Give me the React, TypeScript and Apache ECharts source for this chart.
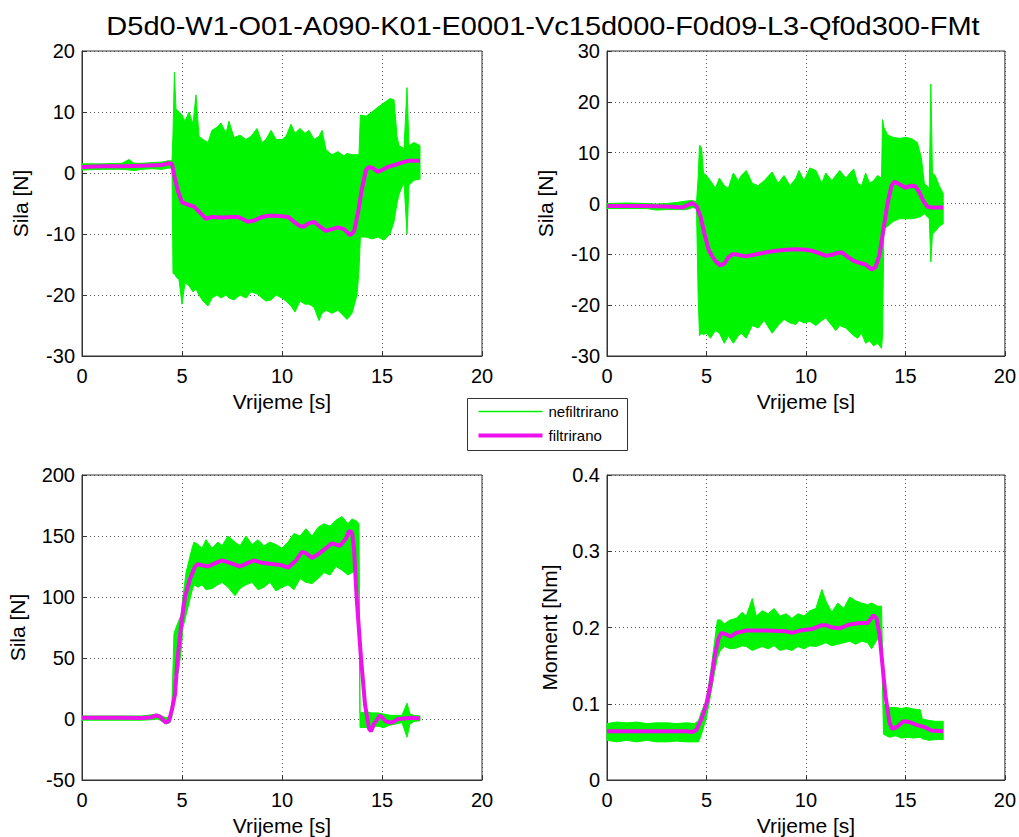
import React, { useEffect, useRef } from 'react';
import * as echarts from 'echarts';

const TITLE = 'D5d0-W1-O01-A090-K01-E0001-Vc15d000-F0d09-L3-Qf0d300-FMt';
const X_NAME = 'Vrijeme [s]';
const Y_NAMES = ['Sila [N]', 'Sila [N]', 'Sila [N]', 'Moment [Nm]'];
const LEGEND_NAMES = ['nefiltrirano', 'filtrirano'];

// y-axis ranges [min, max, interval]
const Y_RANGES: [number, number, number][] = [
  [-30, 20, 10],
  [-30, 30, 10],
  [-50, 200, 50],
  [0, 0.4, 0.1],
];

// Unfiltered signal envelope: [time, lower, upper]
const rawEnvelope1: [number, number, number][] = [
  [0, 0.5, 1.5], [1, 0.6, 1.5], [2, 0.6, 1.6], [2.35, 0.5, 2.2], [2.6, 0.4, 1.6], [3, 0.6, 1.6],
  [3.5, 0.7, 1.7], [4.0, 0.6, 1.8], [4.3, 0.8, 2.0], [4.5, 0.8, 2.0], [4.55, -16.5, 6.5],
  [4.62, -16.5, 16.5], [4.7, -17, 10.5], [4.85, -17.5, 10], [5.0, -21.5, 9.5], [5.15, -18, 8.5],
  [5.35, -18.5, 10], [5.55, -19.5, 8], [5.7, -19, 12.8], [5.85, -20, 6], [6.05, -21, 5.5],
  [6.3, -21.8, 5], [6.5, -20.5, 7], [6.75, -20, 7.5], [6.95, -20.5, 8.2], [7.2, -20, 6.5],
  [7.35, -20.5, 8.5], [7.6, -20.8, 5.8], [7.9, -20, 6.2], [8.2, -20.5, 5.5], [8.45, -19.5, 6],
  [8.75, -19.8, 7.3], [9.0, -20.5, 5], [9.2, -21, 5.5], [9.45, -20.8, 7], [9.7, -20, 5.5],
  [10.0, -20.5, 5.5], [10.2, -21, 6], [10.45, -21.8, 8], [10.65, -22.8, 6.5], [10.9, -21, 7.3],
  [11.15, -21.5, 6.5], [11.35, -21.5, 7], [11.6, -22, 5.5], [11.85, -24.2, 6], [12.0, -23, 7],
  [12.2, -22.5, 3.8], [12.5, -23, 3], [12.8, -22.5, 3.5], [13.1, -23.5, 2.8], [13.25, -24, 3.2],
  [13.5, -23, 3], [13.75, -20, 3], [13.85, -16, 3], [13.92, -10.5, 9.5], [14.2, -10.5, 9.3],
  [14.5, -10.8, 10], [14.8, -10.5, 10.8], [15.1, -11, 11.5], [15.4, -10, 12.2], [15.6, -8, 12],
  [15.75, -5, 6], [15.85, -3.5, 4.5], [16.1, -1.5, 4], [16.25, -10, 14], [16.35, -2, 4.5],
  [16.6, -1.2, 5], [16.9, -1, 4.5],
];
const rawEnvelope2: [number, number, number][] = [
  [0, -1, 0], [1, -1, 0.1], [2, -1, 0], [2.5, -1.3, -0.1], [3, -1.2, 0], [3.5, -1.2, 0.2],
  [4, -1.2, 0.5], [4.3, -0.8, 0.6], [4.5, -1, 0.3], [4.58, -18, 5], [4.65, -26, 11.5],
  [4.75, -25.5, 11], [4.85, -25.8, 6], [5.0, -25.5, 5.5], [5.2, -26.5, 4.5], [5.45, -25, 3],
  [5.65, -25.5, 5], [5.9, -27.5, 3.5], [6.1, -26, 3], [6.35, -27.5, 6], [6.6, -26, 4.5],
  [6.75, -25.5, 5.5], [7.0, -26.5, 6.5], [7.3, -24, 4], [7.6, -24.5, 3.5], [7.9, -23, 4.5],
  [8.3, -25.5, 6.2], [8.6, -24, 4], [8.9, -22.8, 5.5], [9.2, -23.5, 3.5], [9.5, -23.8, 5],
  [9.65, -23, 6.5], [9.9, -23.5, 4.5], [10.2, -23.2, 7], [10.5, -24, 6.5], [10.8, -23, 4],
  [11.0, -22.5, 6], [11.3, -24, 4.5], [11.5, -25, 5.5], [11.7, -24, 6.5], [12.0, -24.5, 5],
  [12.4, -26, 6.8], [12.6, -26.5, 4], [12.8, -25.5, 3.5], [13.0, -27.5, 6], [13.2, -27, 4],
  [13.4, -28, 4.5], [13.6, -27.5, 5.5], [13.8, -28.5, 5], [13.85, -26, 16.5], [13.92, -5, 15],
  [14.1, -4.5, 13.5], [14.4, -3.5, 13], [14.7, -3, 12.8], [15.0, -3, 13], [15.3, -3, 12.8],
  [15.6, -2.8, 12], [15.8, -2.5, 9], [15.95, -2, 4], [16.2, -3, 3], [16.28, -11.5, 23.5],
  [16.36, -6, 6], [16.5, -5.5, 5.5], [16.7, -4.5, 3.5], [16.9, -4, 2],
];
const rawEnvelope3: [number, number, number][] = [
  [0, -1, 2.5], [1, -1, 2.5], [2, -1, 2.5], [3, -1, 2.5], [3.5, -0.5, 3.5], [3.8, 0, 4],
  [4.2, -4, 1], [4.4, -3, 2], [4.5, 2, 15], [4.6, 35, 70], [4.7, 40, 75], [4.82, 38, 80],
  [4.95, 55, 85], [5.05, 75, 100], [5.2, 85, 120], [5.35, 95, 130], [5.5, 105, 140],
  [5.6, 110, 145], [5.8, 108, 143], [6.0, 110, 140], [6.2, 106, 147], [6.5, 107, 140],
  [6.8, 110, 145], [7.0, 112, 142], [7.3, 108, 150], [7.65, 101, 145], [7.9, 107, 142],
  [8.2, 110, 150], [8.5, 112, 143], [8.8, 106, 147], [9.1, 108, 142], [9.4, 112, 145],
  [9.7, 105, 143], [10.0, 108, 140], [10.3, 110, 145], [10.6, 106, 152], [10.9, 115, 150],
  [11.2, 112, 156], [11.5, 111, 150], [11.8, 115, 157], [12.1, 120, 160], [12.4, 118, 158],
  [12.7, 125, 163], [13.0, 122, 166], [13.3, 118, 160], [13.5, 120, 164], [13.75, 122, 162],
  [13.85, 100, 160], [13.9, -7, 5], [14.2, -7, 6], [14.5, -6, 5], [14.8, -6, 5], [15.1, -7, 4],
  [15.4, -5, 3], [15.7, -4, 3], [16.0, -3, 3], [16.25, -15, 13], [16.4, -4, 4], [16.6, -2, 3],
  [16.9, -1.5, 2.5],
];
const rawEnvelope4: [number, number, number][] = [
  [0, 0.052, 0.074], [0.5, 0.05, 0.076], [1, 0.052, 0.075], [1.5, 0.05, 0.076], [2, 0.052, 0.074],
  [2.5, 0.05, 0.075], [3, 0.05, 0.075], [3.5, 0.051, 0.074], [4, 0.05, 0.075], [4.4, 0.05, 0.074],
  [4.6, 0.05, 0.078], [4.75, 0.06, 0.09], [5.0, 0.082, 0.105], [5.2, 0.11, 0.14], [5.4, 0.14, 0.18],
  [5.55, 0.16, 0.21], [5.7, 0.17, 0.21], [5.9, 0.175, 0.205], [6.2, 0.172, 0.21], [6.5, 0.173, 0.212],
  [6.8, 0.176, 0.22], [7.0, 0.175, 0.215], [7.3, 0.17, 0.238], [7.5, 0.172, 0.215], [7.8, 0.175, 0.222],
  [8.1, 0.172, 0.218], [8.4, 0.176, 0.225], [8.7, 0.17, 0.215], [9.0, 0.172, 0.218], [9.3, 0.17, 0.212],
  [9.6, 0.175, 0.218], [9.9, 0.172, 0.215], [10.2, 0.176, 0.222], [10.5, 0.175, 0.225], [10.8, 0.178, 0.25],
  [11.0, 0.18, 0.235], [11.3, 0.176, 0.22], [11.6, 0.178, 0.232], [11.9, 0.18, 0.225], [12.2, 0.182, 0.24],
  [12.5, 0.178, 0.235], [12.8, 0.182, 0.232], [13.1, 0.18, 0.23], [13.3, 0.172, 0.232], [13.6, 0.185, 0.228],
  [13.8, 0.18, 0.228], [13.9, 0.06, 0.1], [14.2, 0.056, 0.095], [14.5, 0.058, 0.095], [14.8, 0.055, 0.094],
  [15.1, 0.056, 0.095], [15.4, 0.055, 0.093], [15.75, 0.056, 0.092], [15.85, 0.054, 0.08], [16.2, 0.052, 0.078],
  [16.5, 0.053, 0.077], [16.9, 0.053, 0.077],
];

// Filtered signal: [time, value]
const filtered1: [number, number][] = [
  [0, 1.0], [1, 1.1], [2, 1.1], [3, 1.2], [4, 1.3], [4.3, 1.6], [4.5, 1.5], [4.65, -1], [4.8, -3],
  [5.0, -4.8], [5.3, -5.2], [5.6, -5.5], [5.9, -6.5], [6.2, -7.5], [6.5, -7.2], [7.0, -7.3],
  [7.5, -7.2], [7.8, -7.2], [8.0, -7.5], [8.3, -8], [8.6, -7.8], [9.0, -7.2], [9.3, -7], [9.7, -7],
  [10.0, -7.1], [10.3, -7.2], [10.6, -8], [10.9, -8.7], [11.1, -8.8], [11.3, -8.3], [11.6, -8],
  [11.9, -8.8], [12.2, -9.5], [12.5, -9.2], [12.8, -8.9], [13.1, -9.2], [13.4, -10.2], [13.6, -9.6],
  [13.8, -6.5], [14.0, -2.5], [14.2, 0.5], [14.35, 1], [14.55, 0.8], [14.8, 0.2], [15.0, 0.5],
  [15.3, 1], [15.6, 1.3], [16.0, 1.7], [16.3, 2], [16.9, 2],
];
const filtered2: [number, number][] = [
  [0, -0.5], [2, -0.5], [3, -0.6], [3.5, -0.7], [3.8, -0.8], [4.1, -0.2], [4.3, 0.1], [4.5, -0.5],
  [4.7, -2.5], [4.9, -6], [5.1, -9], [5.3, -10.5], [5.5, -11.5], [5.7, -12.2], [5.9, -11.8],
  [6.1, -10.6], [6.3, -10], [6.5, -10], [6.8, -10.3], [7.0, -10.4], [7.5, -10], [8.0, -9.6],
  [8.5, -9.3], [9.0, -9.1], [9.5, -9], [10.0, -9.1], [10.3, -9.3], [10.7, -9.8], [11.0, -10.3],
  [11.3, -10.1], [11.5, -9.8], [11.8, -9.6], [12.1, -10.5], [12.4, -11.3], [12.7, -11.7], [13.0, -12],
  [13.3, -13], [13.5, -12.5], [13.7, -10], [13.9, -5], [14.1, 0], [14.3, 3.5], [14.45, 4.3],
  [14.7, 3.8], [15.0, 3.1], [15.3, 3.5], [15.5, 3.4], [15.7, 2.2], [15.9, 0.5], [16.1, -0.6],
  [16.3, -0.8], [16.9, -0.8],
];
const filtered3: [number, number][] = [
  [0, 1], [1, 1], [2, 1], [3, 0.8], [3.5, 1.5], [3.7, 3], [3.9, 2], [4.1, -1.5], [4.2, -3],
  [4.35, -1.5], [4.5, 8], [4.65, 20], [4.78, 50], [4.98, 80], [5.15, 100], [5.4, 115], [5.65, 125],
  [5.8, 127], [6.0, 126], [6.3, 125], [6.7, 128], [7.0, 130], [7.4, 128], [7.9, 125], [8.3, 128],
  [8.6, 130], [9.0, 128], [9.5, 127], [10.0, 126], [10.3, 124], [10.7, 130], [11.0, 137],
  [11.2, 136], [11.5, 132], [11.8, 135], [12.2, 140], [12.5, 144], [12.9, 142], [13.2, 148],
  [13.35, 154], [13.5, 153], [13.6, 140], [13.73, 100], [13.95, 50], [14.15, 12], [14.35, -8],
  [14.45, -10], [14.6, -4], [14.9, 3], [15.2, -2], [15.5, -3], [15.8, 0], [16.1, 0.5], [16.5, 1],
  [16.9, 0.5],
];
const filtered4: [number, number][] = [
  [0, 0.064], [2, 0.064], [4, 0.064], [4.3, 0.063], [4.5, 0.066], [4.75, 0.08], [5.0, 0.1],
  [5.2, 0.125], [5.42, 0.163], [5.6, 0.185], [5.75, 0.193], [6.0, 0.191], [6.2, 0.188], [6.5, 0.193],
  [7.0, 0.196], [8.0, 0.196], [9.0, 0.195], [9.3, 0.193], [9.7, 0.196], [10.3, 0.198], [10.8, 0.203],
  [11.0, 0.203], [11.3, 0.2], [11.7, 0.199], [12.2, 0.204], [12.7, 0.206], [13.1, 0.206], [13.4, 0.216],
  [13.55, 0.212], [13.7, 0.19], [13.85, 0.15], [14.0, 0.11], [14.2, 0.075], [14.35, 0.067], [14.6, 0.07],
  [14.9, 0.077], [15.2, 0.076], [15.6, 0.072], [16.0, 0.069], [16.3, 0.065], [16.9, 0.064],
];

const ENVELOPES = [rawEnvelope1, rawEnvelope2, rawEnvelope3, rawEnvelope4];
const FILTERED = [filtered1, filtered2, filtered3, filtered4];

const FONT = '"Liberation Sans", Arial, Helvetica, sans-serif';
const GREEN = '#00f500';
const MAGENTA = '#ee11ee';
const AXIS_COLOR = '#333333';

const GRIDS = [
  { left: 82, top: 51, width: 400, height: 305 },
  { left: 607, top: 51, width: 400, height: 305 },
  { left: 82, top: 475, width: 400, height: 305 },
  { left: 607, top: 475, width: 400, height: 305 },
];
const Y_NAME_GAPS = [51, 51, 54, 47];

function buildOption() {
  const grid = GRIDS.map((g) => ({
    ...g,
    show: true,
    borderColor: AXIS_COLOR,
    borderWidth: 1,
    backgroundColor: '#ffffff',
    containLabel: false,
  }));
  const xAxis = GRIDS.map((_, i) => ({
    type: 'value',
    gridIndex: i,
    min: 0,
    max: 20,
    interval: 5,
    name: X_NAME,
    nameLocation: 'middle',
    nameGap: 35,
    nameTextStyle: { fontFamily: FONT, fontSize: 21, color: '#000' },
    axisLine: { show: true, onZero: false, lineStyle: { color: AXIS_COLOR, width: 1 } },
    axisTick: { show: true, inside: true, length: 5, lineStyle: { color: AXIS_COLOR } },
    axisLabel: { fontFamily: FONT, fontSize: 20, color: '#000', margin: 10 },
    splitLine: { show: true, lineStyle: { color: '#555', type: [1, 3], width: 1 } },
  }));
  const yAxis = GRIDS.map((_, i) => ({
    type: 'value',
    gridIndex: i,
    min: Y_RANGES[i][0],
    max: Y_RANGES[i][1],
    interval: Y_RANGES[i][2],
    name: Y_NAMES[i],
    nameLocation: 'middle',
    nameGap: Y_NAME_GAPS[i],
    nameTextStyle: { fontFamily: FONT, fontSize: 21, color: '#000' },
    axisLine: { show: true, onZero: false, lineStyle: { color: AXIS_COLOR, width: 1 } },
    axisTick: { show: true, inside: true, length: 5, lineStyle: { color: AXIS_COLOR } },
    axisLabel: { fontFamily: FONT, fontSize: 20, color: '#000', margin: 7 },
    splitLine: { show: true, lineStyle: { color: '#555', type: [1, 3], width: 1 } },
  }));

  const series: any[] = [];
  ENVELOPES.forEach((env, i) => {
    series.push({
      type: 'custom',
      name: LEGEND_NAMES[0],
      xAxisIndex: i,
      yAxisIndex: i,
      data: env.map((d) => [d[0], d[1], d[2]]),
      encode: { x: 0, y: [1, 2] },
      silent: true,
      renderItem: (params: any, api: any) => {
        if (params.dataIndex !== 0) return null;
        const upper = env.map((d) => api.coord([d[0], d[2]]));
        const lower = env.map((d) => api.coord([d[0], d[1]])).reverse();
        return {
          type: 'polygon',
          shape: { points: upper.concat(lower) },
          style: { fill: GREEN, stroke: GREEN, lineWidth: 1 },
        };
      },
    });
  });
  FILTERED.forEach((f, i) => {
    series.push({
      type: 'line',
      name: LEGEND_NAMES[1],
      xAxisIndex: i,
      yAxisIndex: i,
      data: f,
      showSymbol: false,
      symbol: 'none',
      silent: true,
      lineStyle: { color: MAGENTA, width: 4 },
      z: 5,
    });
  });

  const graphic: any[] = [
    {
      type: 'text',
      x: 543,
      y: 26,
      scaleX: 1.16,
      style: {
        text: TITLE,
        fontFamily: FONT,
        fontSize: 25,
        fill: '#000',
        align: 'center',
        verticalAlign: 'middle',
      },
    },
    {
      type: 'group',
      left: 467,
      top: 398,
      children: [
        { type: 'rect', shape: { x: 0, y: 0, width: 160, height: 52 }, style: { fill: '#fff', stroke: '#333', lineWidth: 1 } },
        { type: 'line', shape: { x1: 11, y1: 13, x2: 75, y2: 13 }, style: { stroke: GREEN, lineWidth: 1.5 } },
        { type: 'line', shape: { x1: 11, y1: 37, x2: 75, y2: 37 }, style: { stroke: MAGENTA, lineWidth: 4 } },
        { type: 'text', x: 81, y: 13, style: { text: LEGEND_NAMES[0], fontFamily: FONT, fontSize: 15, fill: '#000', verticalAlign: 'middle' } },
        { type: 'text', x: 81, y: 37, style: { text: LEGEND_NAMES[1], fontFamily: FONT, fontSize: 15, fill: '#000', verticalAlign: 'middle' } },
      ],
    },
  ];

  return {
    animation: false,
    backgroundColor: '#ffffff',
    textStyle: { fontFamily: FONT },
    grid,
    xAxis,
    yAxis,
    series,
    graphic,
  };
}

export default function App() {
  const ref = useRef<HTMLDivElement>(null);
  useEffect(() => {
    if (!ref.current) return;
    const chart = echarts.init(ref.current, null, { renderer: 'svg' });
    chart.setOption(buildOption() as any);
    return () => chart.dispose();
  }, []);
  return (
    <div
      ref={ref}
      style={{ position: 'absolute', left: 0, top: 0, width: 1019, height: 837, background: '#fff' }}
    />
  );
}
